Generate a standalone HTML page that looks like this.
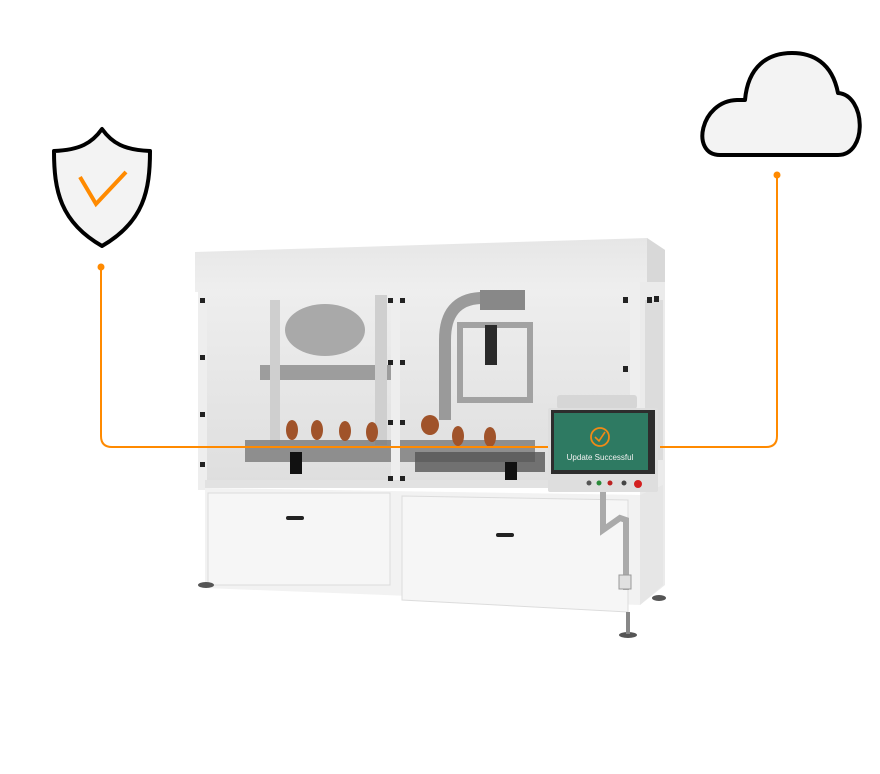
<!DOCTYPE html>
<html><head><meta charset="utf-8"><style>
html,body{margin:0;padding:0;background:#fff;}
svg{display:block;}
</style></head><body>
<svg width="880" height="774" viewBox="0 0 880 774" xmlns="http://www.w3.org/2000/svg">
<defs>
<linearGradient id="top" x1="0" y1="0" x2="0" y2="1"><stop offset="0" stop-color="#e6e6e6"/><stop offset="1" stop-color="#efefef"/></linearGradient>
<linearGradient id="inner" x1="0" y1="0" x2="0" y2="1"><stop offset="0" stop-color="#eeeeee"/><stop offset="1" stop-color="#dedede"/></linearGradient>
</defs>
<!-- shield -->
<path d="M102,129 C92,143 80,150 54,151 C54,190 60,222 102,246 C144,222 150,190 150,151 C124,150 112,143 102,129 Z" fill="#f3f3f3" stroke="#000" stroke-width="4" stroke-linejoin="round"/>
<polyline points="80,177 96,204 126,172" fill="none" stroke="#ff8a00" stroke-width="4"/>
<!-- cloud -->
<path d="M720,155 L838,155 C868,155 866,95 838,93 C832,62 812,53 792,53 C768,53 748,66 745,100 L737,100 C700,101 690,155 720,155 Z" fill="#f3f3f3" stroke="#000" stroke-width="4" stroke-linejoin="round"/>

<!-- machine: top -->
<polygon points="195,252 647,238 665,250 665,292 195,292" fill="url(#top)"/>
<polygon points="647,238 665,250 665,292 647,290" fill="#d8d8d8"/>
<rect x="205" y="290" width="435" height="195" fill="url(#inner)"/>
<polygon points="640,282 665,282 665,585 640,605" fill="#ebebeb"/>
<rect x="645" y="300" width="18" height="160" fill="#dcdcdc"/>
<rect x="260" y="365" width="140" height="15" fill="#9d9d9d"/>
<ellipse cx="325" cy="330" rx="40" ry="26" fill="#a9a9a9"/>
<rect x="270" y="300" width="10" height="150" fill="#cfcfcf"/>
<rect x="375" y="295" width="12" height="150" fill="#cfcfcf"/>
<path d="M445,420 L445,340 Q445,300 480,298 L500,298" fill="none" stroke="#9a9a9a" stroke-width="12"/>
<rect x="460" y="325" width="70" height="75" fill="none" stroke="#a2a2a2" stroke-width="6"/>
<rect x="485" y="325" width="12" height="40" fill="#2a2a2a"/>
<rect x="480" y="290" width="45" height="20" fill="#888"/>
<rect x="245" y="440" width="290" height="22" fill="#6b6b6b" opacity="0.7"/>
<rect x="415" y="452" width="130" height="20" fill="#555" opacity="0.8"/>
<g fill="#a0532a">
<ellipse cx="292" cy="430" rx="6" ry="10"/><ellipse cx="317" cy="430" rx="6" ry="10"/><ellipse cx="345" cy="431" rx="6" ry="10"/><ellipse cx="372" cy="432" rx="6" ry="10"/>
<ellipse cx="430" cy="425" rx="9" ry="10"/><ellipse cx="458" cy="436" rx="6" ry="10"/><ellipse cx="490" cy="437" rx="6" ry="10"/>
</g>
<rect x="290" y="452" width="12" height="22" fill="#111"/>
<rect x="505" y="462" width="12" height="26" fill="#111"/>
<rect x="198" y="290" width="9" height="200" fill="#eeeeee"/>
<rect x="391" y="288" width="9" height="200" fill="#eeeeee"/>
<rect x="630" y="285" width="10" height="205" fill="#eeeeee"/>
<rect x="205" y="480" width="435" height="8" fill="#e2e2e2"/>
<g fill="#222">
<rect x="200" y="298" width="5" height="5"/><rect x="200" y="355" width="5" height="5"/><rect x="200" y="412" width="5" height="5"/><rect x="200" y="462" width="5" height="5"/>
<rect x="388" y="298" width="5" height="5"/><rect x="400" y="298" width="5" height="5"/><rect x="388" y="360" width="5" height="5"/><rect x="400" y="360" width="5" height="5"/>
<rect x="388" y="420" width="5" height="5"/><rect x="400" y="420" width="5" height="5"/><rect x="388" y="476" width="5" height="5"/><rect x="400" y="476" width="5" height="5"/>
<rect x="623" y="297" width="5" height="6"/><rect x="623" y="366" width="5" height="6"/><rect x="647" y="297" width="5" height="6"/><rect x="654" y="296" width="5" height="6"/>
</g>
<polygon points="205,488 640,495 640,605 205,588" fill="#f2f2f2"/>
<polygon points="640,495 663,485 663,585 640,605" fill="#e6e6e6"/>
<rect x="208" y="493" width="182" height="92" fill="#f6f6f6" stroke="#dcdcdc"/>
<polygon points="402,496 628,500 628,612 402,600" fill="#f6f6f6" stroke="#dcdcdc"/>
<rect x="286" y="516" width="18" height="4" rx="2" fill="#222"/>
<rect x="496" y="533" width="18" height="4" rx="2" fill="#222"/>
<ellipse cx="206" cy="585" rx="8" ry="3" fill="#555"/>
<ellipse cx="628" cy="635" rx="9" ry="3" fill="#555"/>
<ellipse cx="659" cy="598" rx="7" ry="3" fill="#555"/>
<rect x="626" y="612" width="4" height="22" fill="#888"/>
<path d="M603,492 L603,530 L620,518 L626,520 L626,590" fill="none" stroke="#aaa" stroke-width="6"/>
<rect x="619" y="575" width="12" height="14" fill="#e0e0e0" stroke="#999"/>

<!-- connectors -->
<circle cx="101" cy="267" r="3.5" fill="#ff8a00"/>
<path d="M101,267 L101,436 Q101,447 112,447 L548,447" fill="none" stroke="#ff8a00" stroke-width="2"/>
<circle cx="777" cy="175" r="3.5" fill="#ff8a00"/>
<path d="M777,175 L777,436 Q777,447 766,447 L660,447" fill="none" stroke="#ff8a00" stroke-width="2"/>

<!-- screen -->
<rect x="557" y="395" width="80" height="14" rx="3" fill="#d6d6d6"/>
<rect x="548" y="408" width="110" height="84" rx="2" fill="#dedede"/>
<rect x="551" y="410" width="104" height="64" fill="#2d2d2d"/>
<rect x="554" y="413" width="94" height="57" fill="#2e7a62"/>
<circle cx="600" cy="437" r="9" fill="none" stroke="#f08a16" stroke-width="1.8"/>
<polyline points="595,437 599,441 605,432" fill="none" stroke="#f08a16" stroke-width="1.6"/>
<text x="600" y="460" fill="#f1f1f1" font-family="Liberation Sans, sans-serif" font-size="8" text-anchor="middle">Update Successful</text>
<circle cx="589" cy="483" r="2.5" fill="#555"/><circle cx="599" cy="483" r="2.5" fill="#2a8a3a"/><circle cx="610" cy="483" r="2.5" fill="#b22"/><circle cx="624" cy="483" r="2.5" fill="#444"/><circle cx="638" cy="484" r="4" fill="#d42020"/>
</svg>
</body></html>
